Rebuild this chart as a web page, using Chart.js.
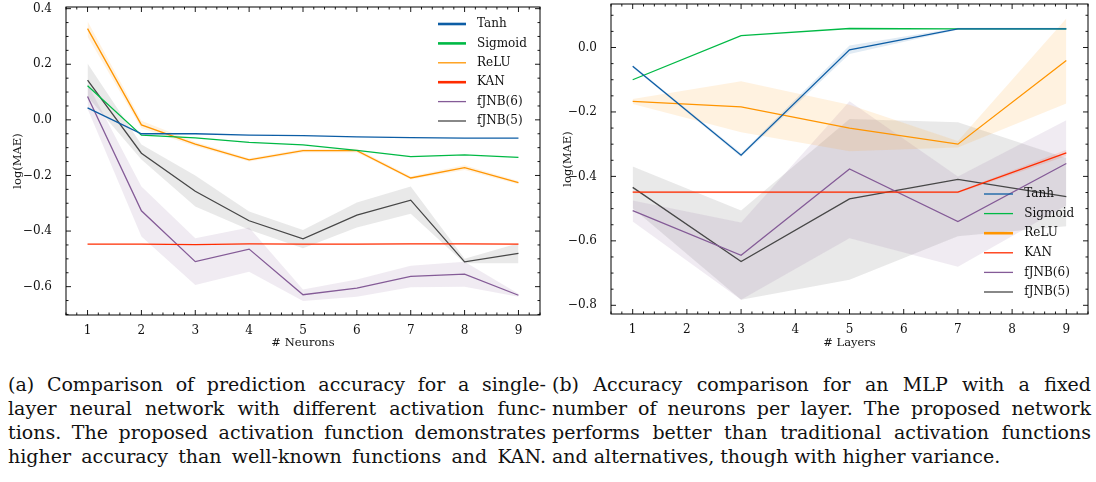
<!DOCTYPE html>
<html lang="en">
<head>
<meta charset="UTF-8">
<title>log(MAE) comparison</title>
<script src="https://cdn.jsdelivr.net/npm/chart.js@4.4.1/dist/chart.umd.min.js"></script>
<style>
    body {
        margin: 0;
        background: #fff;
        width: 1096px;
        height: 482px;
        position: relative;
        overflow: hidden;
    }
    canvas {
        position: absolute;
        top: 0;
    }
    #chartA { left: 0; }
    #chartB { left: 548px; }
    .caption {
        position: absolute;
        top: 372px;
        font-family: 'DejaVu Serif', 'Liberation Serif', serif;
        font-size: 19px;
        line-height: 24px;
        color: #111;
    }
    .caption div {
        text-align: justify;
        text-align-last: justify;
        white-space: nowrap;
    }
    .caption div.last {
        text-align-last: left;
    }
    #capA { left: 8px; width: 538px; }
    #capB { left: 552px; width: 539px; }
</style>
</head>
<body>
<canvas id="chartA" width="548" height="352"></canvas>
<canvas id="chartB" width="548" height="352"></canvas>

<div class="caption" id="capA">
    <div>(a) Comparison of prediction accuracy for a single-</div>
    <div>layer neural network with different activation func-</div>
    <div>tions. The proposed activation function demonstrates</div>
    <div>higher accuracy than well-known functions and KAN.</div>
</div>
<div class="caption" id="capB">
    <div>(b) Accuracy comparison for an MLP with a fixed</div>
    <div>number of neurons per layer. The proposed network</div>
    <div>performs better than traditional activation functions</div>
    <div class="last">and alternatives, though with higher variance.</div>
</div>

<script>
// ---- data: (a) single layer, x = number of neurons ----
const neurons = [1, 2, 3, 4, 5, 6, 7, 8, 9];
const tanhA    = [0.043, -0.050, -0.050, -0.055, -0.057, -0.061, -0.064, -0.066, -0.066];
const sigmoidA = [0.123, -0.055, -0.065, -0.081, -0.090, -0.110, -0.132, -0.126, -0.135];
const reluA    = [0.328, -0.018, -0.087, -0.144, -0.111, -0.111, -0.209, -0.172, -0.226];
const reluALo  = [0.300, -0.030, -0.095, -0.150, -0.117, -0.117, -0.215, -0.180, -0.232];
const reluAHi  = [0.355, -0.003, -0.080, -0.138, -0.105, -0.104, -0.203, -0.163, -0.220];
const kanA     = [-0.447, -0.447, -0.449, -0.446, -0.447, -0.447, -0.446, -0.446, -0.447];
const jnb6A    = [0.084, -0.327, -0.510, -0.465, -0.629, -0.605, -0.563, -0.555, -0.631];
const jnb6ALo  = [0.040, -0.420, -0.594, -0.546, -0.652, -0.636, -0.602, -0.600, -0.636];
const jnb6AHi  = [0.130, -0.240, -0.426, -0.387, -0.610, -0.574, -0.525, -0.510, -0.626];
const jnb5A    = [0.143, -0.120, -0.257, -0.363, -0.428, -0.343, -0.289, -0.511, -0.480];
const jnb5ALo  = [0.083, -0.143, -0.312, -0.395, -0.462, -0.387, -0.338, -0.516, -0.516];
const jnb5AHi  = [0.203, -0.089, -0.200, -0.330, -0.396, -0.297, -0.240, -0.500, -0.444];

// ---- data: (b) MLP, x = number of layers ----
const layers = [1, 3, 5, 7, 9];
const tanhB    = [-0.058, -0.334, -0.007, 0.058, 0.058];
const tanhBLo  = [-0.062, -0.340, -0.020, 0.055, 0.055];
const tanhBHi  = [-0.054, -0.328, 0.006, 0.061, 0.061];
const sigmoidB = [-0.100, 0.037, 0.059, 0.058, 0.058];
const reluB    = [-0.167, -0.184, -0.250, -0.300, -0.040];
const reluBLo  = [-0.175, -0.263, -0.322, -0.310, -0.174];
const reluBHi  = [-0.160, -0.105, -0.178, -0.290, 0.090];
const kanB     = [-0.449, -0.449, -0.449, -0.449, -0.327];
const kanBLo   = [-0.452, -0.452, -0.452, -0.452, -0.337];
const kanBHi   = [-0.446, -0.446, -0.446, -0.446, -0.317];
const jnb6B    = [-0.506, -0.645, -0.377, -0.540, -0.360];
const jnb6BLo  = [-0.540, -0.783, -0.592, -0.680, -0.490];
const jnb6BHi  = [-0.475, -0.543, -0.167, -0.400, -0.226];
const jnb5B    = [-0.434, -0.664, -0.470, -0.409, -0.463];
const jnb5BLo  = [-0.499, -0.783, -0.721, -0.586, -0.555];
const jnb5BHi  = [-0.369, -0.506, -0.222, -0.232, -0.343];

// ---- axes ----
const xTicks  = [1, 2, 3, 4, 5, 6, 7, 8, 9];
const yTicksA = [-0.6, -0.4, -0.2, 0.0, 0.2, 0.4];
const yTicksB = [-0.8, -0.6, -0.4, -0.2, 0.0];

const COLORS = {
    tanh: '#0C5DA5',
    sigmoid: '#00B945',
    relu: '#FF9500',
    kan: '#FF2C00',
    jnb6: '#845B97',
    jnb5: '#474747'
};
const SERIF = "'DejaVu Serif', 'Liberation Serif', serif";

function rgba(hex, a) {
    const n = parseInt(hex.slice(1), 16);
    return `rgba(${n >> 16}, ${(n >> 8) & 255}, ${n & 255}, ${a})`;
}

function pts(xs, ys) {
    return xs.map((x, i) => ({x: x, y: ys[i]}));
}

// build line datasets first (drawn on top), then the shaded bands
function buildDatasets(xs, series) {
    const lines = series.map(s => ({
        label: s.label,
        data: pts(xs, s.y),
        borderColor: s.color,
        borderWidth: 1.3,
        pointRadius: 0,
        fill: false,
        legendWidth: s.legendWidth,
        tension: 0
    }));
    const bands = [];
    series.forEach(s => {
        if (!s.lo) return;
        const loIndex = lines.length + bands.length;
        bands.push({
            label: s.label + ' lo',
            data: pts(xs, s.lo),
            borderWidth: 0,
            pointRadius: 0,
            fill: false
        });
        bands.push({
            label: s.label + ' hi',
            data: pts(xs, s.hi),
            borderWidth: 0,
            pointRadius: 0,
            backgroundColor: rgba(s.color, s.alpha || 0.12),
            fill: {target: loIndex}
        });
    });
    return lines.concat(bands);
}

// frame + inward ticks on all four sides
const frameTicks = {
    id: 'frameTicks',
    afterDraw(chart) {
        const {ctx, chartArea: a, scales} = chart;
        const xs = scales.x, ys = scales.y;
        ctx.save();
        ctx.strokeStyle = '#000';
        ctx.lineWidth = 0.9;
        const tick = (x1, y1, x2, y2) => {
            ctx.beginPath();
            ctx.moveTo(x1, y1);
            ctx.lineTo(x2, y2);
            ctx.stroke();
        };
        const xMajor = xs.ticks.map(t => t.value);
        const yMajor = ys.ticks.map(t => t.value);
        const minors = (lo, hi, step, major) => {
            const out = [];
            for (let v = Math.ceil(lo / step) * step; v <= hi + 1e-9; v += step) {
                if (!major.some(m => Math.abs(m - v) < step / 10)) out.push(v);
            }
            return out;
        };
        const xMinor = minors(xs.min, xs.max, 0.2, xMajor);
        const yMinor = minors(ys.min, ys.max, 0.05, yMajor);

        [[xMajor, 5], [xMinor, 2.5]].forEach(([vals, len]) => {
            vals.forEach(v => {
                const px = xs.getPixelForValue(v);
                tick(px, a.bottom, px, a.bottom - len);
                tick(px, a.top, px, a.top + len);
            });
        });
        [[yMajor, 5], [yMinor, 2.5]].forEach(([vals, len]) => {
            vals.forEach(v => {
                const py = ys.getPixelForValue(v);
                tick(a.left, py, a.left + len, py);
                tick(a.right, py, a.right - len, py);
            });
        });
        ctx.lineWidth = 1;
        ctx.strokeRect(a.left, a.top, a.right - a.left, a.bottom - a.top);
        ctx.restore();
    }
};

// legend drawn inside the plot like matplotlib
const innerLegend = {
    id: 'innerLegend',
    afterDraw(chart, args, opts) {
        const {ctx, chartArea: a} = chart;
        const items = chart.data.datasets.filter(d => d.legendWidth);
        ctx.save();
        ctx.font = `12px ${SERIF}`;
        ctx.fillStyle = '#111';
        ctx.textBaseline = 'middle';
        items.forEach((d, i) => {
            const y = a.top + opts.top + i * opts.gap;
            ctx.strokeStyle = d.borderColor;
            ctx.lineWidth = d.legendWidth;
            ctx.beginPath();
            ctx.moveTo(a.right - opts.lineStart, y);
            ctx.lineTo(a.right - opts.lineEnd, y);
            ctx.stroke();
            ctx.fillText(d.label, a.right - opts.textAt, y);
        });
        ctx.restore();
    }
};

function makeChart(id, xs, series, cfg) {
    return new Chart(document.getElementById(id), {
        type: 'line',
        data: {datasets: buildDatasets(xs, series)},
        plugins: [frameTicks, innerLegend],
        options: {
            responsive: false,
            animation: false,
            layout: {padding: cfg.padding},
            plugins: {
                legend: {display: false},
                tooltip: {enabled: false},
                filler: {propagate: false},
                innerLegend: cfg.legend
            },
            scales: {
                x: {
                    type: 'linear',
                    min: 0.6,
                    max: 9.4,
                    afterBuildTicks: s => { s.ticks = xTicks.map(v => ({value: v})); },
                    afterFit: s => {
                        s.height = cfg.xHeight;
                        s.paddingLeft = 0;
                        s.paddingRight = 0;
                    },
                    grid: {display: false},
                    border: {display: false},
                    ticks: {
                        color: '#111',
                        font: {family: SERIF, size: 12},
                        padding: 1,
                        maxRotation: 0,
                        autoSkip: false,
                        callback: v => String(v)
                    },
                    title: {
                        display: true,
                        text: cfg.xTitle,
                        color: '#111',
                        font: {family: SERIF, size: 11.5},
                        padding: {top: 0, bottom: 2}
                    }
                },
                y: {
                    type: 'linear',
                    min: cfg.yMin,
                    max: cfg.yMax,
                    afterBuildTicks: s => { s.ticks = cfg.yTicks.map(v => ({value: v})); },
                    afterFit: s => {
                        s.width = cfg.yWidth;
                        s.paddingTop = 0;
                        s.paddingBottom = 0;
                    },
                    grid: {display: false},
                    border: {display: false},
                    ticks: {
                        color: '#111',
                        font: {family: SERIF, size: 12},
                        padding: 6,
                        callback: v => v.toFixed(1).replace('-', '\u2212')
                    },
                    title: {
                        display: true,
                        text: 'log(MAE)',
                        color: '#111',
                        font: {family: SERIF, size: 11.5},
                        padding: {top: cfg.yTitlePad, bottom: 0}
                    }
                }
            }
        }
    });
}

makeChart('chartA', neurons, [
    {label: 'Tanh', y: tanhA, color: COLORS.tanh, legendWidth: 2.6},
    {label: 'Sigmoid', y: sigmoidA, color: COLORS.sigmoid, legendWidth: 2.6},
    {label: 'ReLU', y: reluA, lo: reluALo, hi: reluAHi, color: COLORS.relu, legendWidth: 1.3},
    {label: 'KAN', y: kanA, color: COLORS.kan, legendWidth: 2.6},
    {label: 'fJNB(6)', y: jnb6A, lo: jnb6ALo, hi: jnb6AHi, color: COLORS.jnb6, legendWidth: 1.3, alpha: 0.12},
    {label: 'fJNB(5)', y: jnb5A, lo: jnb5ALo, hi: jnb5AHi, color: COLORS.jnb5, legendWidth: 1.3, alpha: 0.12}
], {
    padding: {top: 7, right: 8, left: 0, bottom: 0},
    xHeight: 37,
    yWidth: 66,
    yMin: -0.702,
    yMax: 0.406,
    yTicks: yTicksA,
    yTitlePad: 11,
    xTitle: '# Neurons',
    legend: {top: 17, gap: 19.4, lineStart: 102, lineEnd: 74, textAt: 63}
});

makeChart('chartB', layers, [
    {label: 'Tanh', y: tanhB, lo: tanhBLo, hi: tanhBHi, color: COLORS.tanh, legendWidth: 1.3},
    {label: 'Sigmoid', y: sigmoidB, color: COLORS.sigmoid, legendWidth: 1.3},
    {label: 'ReLU', y: reluB, lo: reluBLo, hi: reluBHi, color: COLORS.relu, legendWidth: 2.6},
    {label: 'KAN', y: kanB, lo: kanBLo, hi: kanBHi, color: COLORS.kan, legendWidth: 1.3},
    {label: 'fJNB(6)', y: jnb6B, lo: jnb6BLo, hi: jnb6BHi, color: COLORS.jnb6, legendWidth: 1.3, alpha: 0.12},
    {label: 'fJNB(5)', y: jnb5B, lo: jnb5BLo, hi: jnb5BHi, color: COLORS.jnb5, legendWidth: 1.3, alpha: 0.12}
], {
    padding: {top: 4, right: 8, left: 0, bottom: 0},
    xHeight: 38,
    yWidth: 63,
    yMin: -0.827,
    yMax: 0.135,
    yTicks: yTicksB,
    yTitlePad: 13,
    xTitle: '# Layers',
    legend: {top: 190, gap: 19.6, lineStart: 104, lineEnd: 75, textAt: 63.7}
});
</script>
</body>
</html>
